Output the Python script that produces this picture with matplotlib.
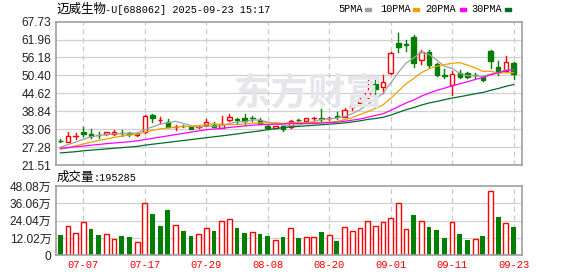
import numpy as np
import matplotlib.pyplot as plt
from matplotlib.patches import Rectangle

plt.rcParams['font.family'] = ['Liberation Sans', 'Noto Sans CJK SC', 'DejaVu Sans']

# %% Data (prices in CNY, volume in 万 shares)
dates = ['07-02', '07-03', '07-04', '07-07', '07-08', '07-09', '07-10', '07-11',
         '07-14', '07-15', '07-16', '07-17', '07-18', '07-21', '07-22', '07-23',
         '07-24', '07-25', '07-28', '07-29', '07-30', '07-31', '08-01', '08-04',
         '08-05', '08-06', '08-07', '08-08', '08-11', '08-12', '08-13', '08-14',
         '08-15', '08-18', '08-19', '08-20', '08-21', '08-22', '08-25', '08-26',
         '08-27', '08-28', '08-29', '09-01', '09-02', '09-03', '09-04', '09-05',
         '09-08', '09-09', '09-10', '09-11', '09-12', '09-15', '09-16', '09-17',
         '09-18', '09-19', '09-22', '09-23']

opens = [29.4, 29.0, 30.8, 32.2, 31.6, 31.3, 31.4, 31.4, 31.8, 31.8,
         31.1, 32.2, 37.6, 35.9, 35.4, 33.7, 34.2, 33.9, 33.6, 34.3,
         34.5, 33.5, 35.9, 36.3, 36.8, 36.6, 35.9, 34.0, 33.5, 34.0,
         33.6, 36.1, 35.6, 36.5, 36.7, 36.5, 37.3, 37.1, 40.1, 41.4,
         43.3, 47.6, 46.5, 51.3, 60.8, 60.5, 62.9, 55.5, 57.8, 54.0,
         50.4, 47.4, 51.3, 51.1, 50.5, 50.0, 58.2, 53.2, 51.8, 54.4]
highs = [29.8, 32.1, 31.7, 33.9, 33.1, 32.0, 32.1, 32.8, 32.7, 32.1,
         31.8, 37.6, 37.9, 36.9, 36.2, 34.4, 34.5, 34.1, 34.0, 36.3,
         35.3, 37.3, 38.0, 36.8, 37.9, 37.3, 36.5, 34.3, 34.2, 34.1,
         35.9, 36.3, 36.7, 36.9, 39.4, 37.0, 38.7, 39.9, 42.5, 43.8,
         48.9, 48.9, 50.5, 57.8, 64.0, 61.9, 63.3, 58.5, 58.5, 54.3,
         52.3, 51.8, 52.0, 51.5, 51.1, 50.3, 58.7, 55.0, 56.6, 54.6]
lows = [28.9, 28.9, 30.0, 30.7, 30.3, 30.2, 31.3, 31.3, 30.7, 30.8,
        31.0, 31.8, 35.3, 35.0, 33.7, 32.8, 33.7, 33.0, 33.3, 34.2,
        33.6, 33.4, 35.8, 35.2, 34.4, 35.7, 34.6, 33.2, 33.4, 32.5,
        33.3, 35.6, 35.5, 36.1, 35.7, 36.1, 36.4, 37.0, 39.2, 41.2,
        43.2, 44.4, 44.7, 51.0, 57.9, 58.2, 53.2, 54.2, 53.2, 50.2,
        49.6, 44.2, 49.6, 49.5, 49.7, 48.6, 52.8, 50.5, 51.5, 49.3]
closes = [29.2, 30.7, 30.9, 31.4, 31.0, 31.1, 32.0, 32.3, 31.7, 31.6,
          31.5, 37.4, 36.8, 36.1, 33.8, 33.9, 34.0, 33.2, 33.7, 35.3,
          33.7, 34.8, 37.0, 36.1, 35.7, 36.5, 34.8, 33.4, 34.1, 33.0,
          35.7, 35.9, 36.5, 36.6, 36.4, 36.6, 37.1, 39.2, 41.0, 42.6,
          45.0, 46.1, 48.3, 57.7, 59.5, 60.2, 54.4, 57.9, 53.7, 50.5,
          50.2, 50.8, 50.0, 50.0, 50.4, 49.0, 54.9, 51.8, 54.8, 50.7]
volumes = [13.9, 20.2, 15.3, 23.0, 18.1, 13.9, 14.6, 11.6, 13.2, 12.5,
           9.1, 36.0, 28.6, 20.2, 31.4, 20.9, 16.7, 13.2, 14.6, 18.8,
           16.7, 23.7, 24.9, 18.8, 15.6, 16.0, 14.6, 13.2, 10.5, 12.5,
           18.8, 11.8, 13.0, 13.0, 16.0, 13.9, 9.8, 19.3, 16.7, 18.6,
           23.5, 20.0, 22.8, 26.2, 36.0, 17.9, 27.9, 23.5, 19.5, 17.4,
           11.8, 22.8, 14.6, 10.5, 11.6, 13.2, 44.4, 26.5, 22.1, 19.5285]
# volume bar colour as drawn: 1 = red (up vs previous close), 0 = green
vol_up = [0, 1, 1, 1, 0, 0, 1, 1, 0, 0, 1, 1, 0, 0, 0, 1, 0, 0, 1, 1,
          0, 1, 1, 0, 0, 1, 0, 0, 1, 0, 1, 0, 1, 1, 0, 1, 0, 1, 1, 1,
          1, 1, 1, 1, 1, 1, 0, 1, 0, 0, 0, 1, 0, 0, 1, 0, 1, 0, 1, 0]

# moving-average values before a full window exists (history off-chart)
ma5_head = [27.2, 28.1, 28.9, 29.8]
ma10_head = [26.6, 27.1, 27.7, 28.3, 28.9, 29.4, 29.9, 30.4, 30.8]
ma20_head = [26.9, 27.1, 27.4, 27.6, 27.9, 28.1, 28.4, 28.6, 28.8, 29.0,
             29.3, 29.7, 30.1, 30.5, 30.9, 31.3, 31.7, 32.1, 32.5]
ma30_head = [25.4, 25.6, 25.8, 26.1, 26.3, 26.5, 26.7, 26.9, 27.1, 27.3,
             27.5, 27.9, 28.2, 28.5, 28.8, 29.1, 29.4, 29.7, 30.0, 30.3,
             30.6, 30.9, 31.2, 31.5, 31.9, 32.2, 32.5, 32.9, 33.2]

price_ticks = ['21.51', '27.28', '33.06', '38.84', '44.62', '50.40', '56.18', '61.96', '67.73']
vol_ticks = ['0', '12.02万', '24.04万', '36.06万', '48.08万']

RED = '#ff0000'
GREEN = '#008000'
MA_COLORS = {'5PMA': '#a0a0a0', '10PMA': '#f0a000', '20PMA': '#ff00ff', '30PMA': '#006d2c'}
MONO = ['Liberation Mono']
CJK = ['Noto Sans CJK SC']


def moving_average(values, n, head):
    full = np.convolve(np.asarray(values), np.ones(n) / n, mode='valid')
    return np.concatenate([head, full])


# %% Layout in pixels (figure is 578 x 276)
W, H = 578, 276
fig = plt.figure(figsize=(W / 100, H / 100), dpi=100)


def px_axes(left, top, right, bottom):
    return fig.add_axes([left / W, 1 - bottom / H, (right - left) / W, (bottom - top) / H])


def px_text(xp, yp, s, **kw):
    return fig.text(xp / W, 1 - yp / H, s, ha='left', va='center', **kw)


ax = px_axes(55.7, 21.6, 522, 165)
axv = px_axes(55.7, 186, 522, 255.3)

x = np.arange(len(closes))
label_idx = list(range(3, len(dates), 8))

for a in (ax, axv):
    a.set_xlim(-0.6, 60.1)
    for s in a.spines.values():
        s.set_color('#a0a0a0')
        s.set_linewidth(1.2)
    a.tick_params(length=0, labelsize=8.6, colors='#222222', pad=3)
    a.set_xticks([])
    for i in label_idx:
        a.axvline(i, color='#c8c8c8', lw=0.9, ls=(0, (4, 3)), zorder=0)

# %% Price panel
lo, hi = float(price_ticks[0]), float(price_ticks[-1])
ax.set_ylim(lo, hi)
yt = np.linspace(lo, hi, len(price_ticks))
ax.set_yticks(yt)
ax.set_yticklabels(price_ticks)
for v in yt[1:-1]:
    ax.axhline(v, color='#d0d0d0', lw=0.9, zorder=0)

# watermark
px_text(234, 94, '东方财富', fontsize=27, fontweight='bold', color='#e6e6ea',
        family=CJK, zorder=0)

body_w = 0.58
for i in x:
    o, h, l, c = opens[i], highs[i], lows[i], closes[i]
    up = c >= o
    col = RED if up else GREEN
    bot, top = min(o, c), max(o, c)
    ax.plot([i, i], [l, bot], color=col, lw=1.0, zorder=2)
    ax.plot([i, i], [top, h], color=col, lw=1.0, zorder=2)
    if top - bot < 0.12:
        ax.plot([i - body_w / 2, i + body_w / 2], [c, c], color=col, lw=1.0, zorder=2)
    else:
        ax.add_patch(Rectangle((i - body_w / 2, bot), body_w, top - bot,
                               facecolor='white' if up else col, edgecolor=col,
                               lw=1.0, zorder=3))

ma_series = {
    '5PMA': moving_average(closes, 5, ma5_head),
    '10PMA': moving_average(closes, 10, ma10_head),
    '20PMA': moving_average(closes, 20, ma20_head),
    '30PMA': moving_average(closes, 30, ma30_head),
}
for name, vals in ma_series.items():
    ax.plot(x, vals, color=MA_COLORS[name], lw=0.9, zorder=4)

# %% Volume panel
vmax = float(vol_ticks[-1].rstrip('万'))
axv.set_ylim(0, vmax)
vt = np.linspace(0, vmax, len(vol_ticks))
axv.set_yticks(vt)
axv.set_yticklabels(vol_ticks)
for v in vt[1:-1]:
    axv.axhline(v, color='#d0d0d0', lw=0.9, zorder=0)

bw = 0.62
for i in x:
    if vol_up[i]:
        axv.bar(i, volumes[i], width=bw, facecolor='white', edgecolor=RED, lw=1.0, zorder=2)
    else:
        axv.bar(i, volumes[i], width=bw, color=GREEN, lw=0, zorder=2)

for i in label_idx:
    axv.text(i, -0.07, dates[i], transform=axv.get_xaxis_transform(),
             ha='center', va='top', fontsize=7.6, color=RED, family=MONO)

# %% Texts
px_text(56, 9.5, '迈威生物', family=CJK, fontsize=9)
px_text(105, 10, '-U[688062] 2025-09-23 15:17', family=MONO, fontsize=7.3)
px_text(57, 177.5, '成交量', family=CJK, fontsize=9)
px_text(93, 178, ':195285', family=MONO, fontsize=7.3)

legend_x = {'5PMA': (338, 365), '10PMA': (380.7, 413), '20PMA': (425.7, 459.7),
            '30PMA': (471.3, 505.3)}
for name, (tx, dx) in legend_x.items():
    px_text(tx, 9.5, name, family=MONO, fontsize=7.4)
    fig.patches.append(Rectangle((dx / W, 1 - 11 / H), 6 / W, 3 / H,
                                 transform=fig.transFigure, color=MA_COLORS[name]))

fig.savefig('out.png', dpi=100)
